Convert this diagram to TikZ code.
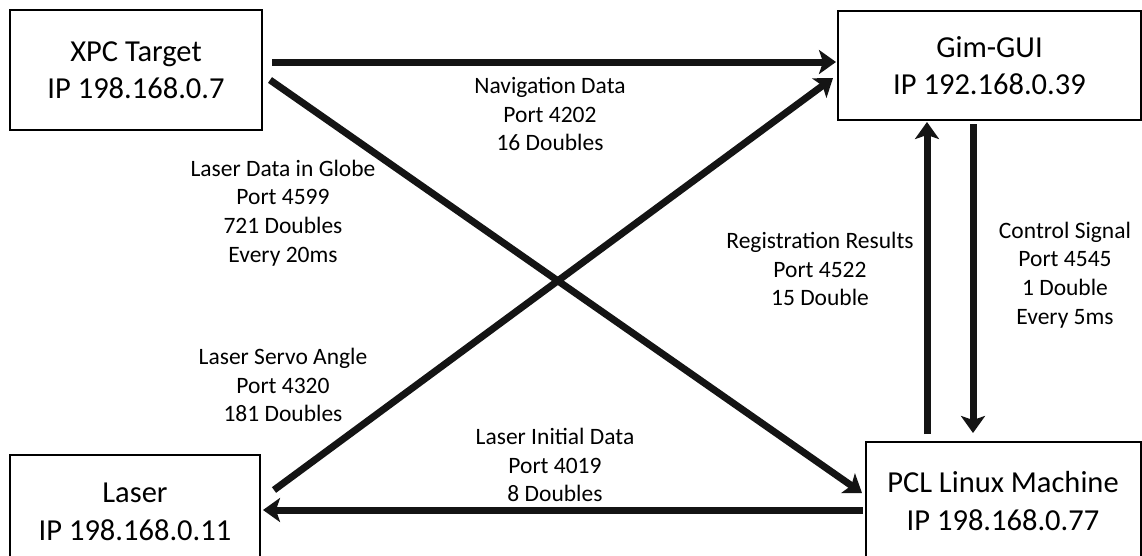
\documentclass[tikz,border=0pt]{standalone}
\usepackage{fontspec}
\setmainfont{Carlito}
\usetikzlibrary{arrows.meta}
\begin{document}
\begin{tikzpicture}[x=1pt,y=-1pt,
  box/.style={draw=black,line width=2.5pt,fill=white,inner sep=0pt,align=center,
    font=\fontsize{30.5}{37.5}\selectfont},
  btxt/.style={align=center,inner sep=0pt,font=\fontsize{30.5}{37.5}\selectfont},
  lbl/.style={align=center,inner sep=0pt,font=\fontsize{23.5}{28.8}\selectfont},
  link/.style={line width=7pt,draw=black!92,
    -{Stealth[width=24pt,length=17pt,inset=4pt]}}]
\useasboundingbox (0,0) rectangle (1142,555);
\fill[white] (0,0) rectangle (1142,555);

\node[box,minimum width=252pt,minimum height=120pt] (xpc) at (136,70) {XPC Target\\IP 198.168.0.7};
\node[box,minimum width=303pt,minimum height=109pt] (gim) at (989.5,65.5) {Gim-GUI\\IP 192.168.0.39};
\node[box,minimum width=275pt,minimum height=140pt] (pcl) at (1003.5,512) {};
\node[box,minimum width=250pt,minimum height=130pt] (laser) at (135,520) {};
\node[btxt] (pcltxt) at (1003,501) {PCL Linux Machine\\IP 198.168.0.77};
\node[btxt] (lasertxt) at (135,512) {Laser\\IP 198.168.0.11};

% connector end points
\coordinate (a1s) at (272,62);  \coordinate (a1e) at (836,62);
\coordinate (a2s) at (270,80);  \coordinate (a2e) at (862,493);
\coordinate (a3s) at (274,490); \coordinate (a3e) at (833,78);
\coordinate (a4s) at (863,510); \coordinate (a4e) at (263,510);
\coordinate (a5s) at (927,434); \coordinate (a5e) at (927,122);
\coordinate (a6s) at (973,124); \coordinate (a6e) at (973,433);

\draw[link] (a2s) -- (a2e);
\draw[link] (a3s) -- (a3e);
\draw[link] (a1s) -- (a1e);
\draw[link] (a4s) -- (a4e);
\draw[link] (a5s) -- (a5e);
\draw[link] (a6s) -- (a6e);

\node[lbl] (l1) at (550,114) {Navigation Data\\Port 4202\\16 Doubles};
\node[lbl] (l2) at (283,213) {Laser Data in Globe\\Port 4599\\721 Doubles\\Every 20ms};
\node[lbl] (l3) at (820,269) {Registration Results\\Port 4522\\15 Double};
\node[lbl] (l4) at (1065,275) {Control Signal\\Port 4545\\1 Double\\Every 5ms};
\node[lbl] (l5) at (283,385) {Laser Servo Angle\\Port 4320\\181 Doubles};
\node[lbl] (l6) at (555,465) {Laser Initial Data\\Port 4019\\8 Doubles};
\end{tikzpicture}
\end{document}
